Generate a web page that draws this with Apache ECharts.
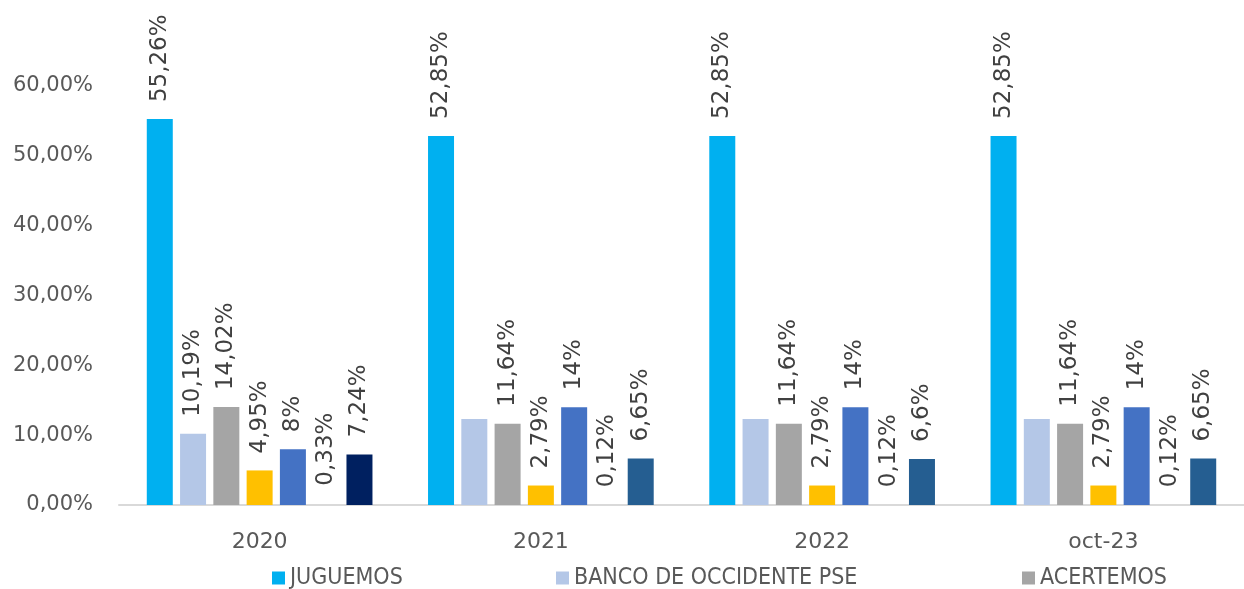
<!DOCTYPE html>
<html>
<head>
    <meta charset="utf-8">
    <title>Participación</title>
    <script src="https://cdn.jsdelivr.net/npm/echarts@6/dist/echarts.min.js"></script>
    <style>
        html, body{
            margin: 0;
            padding: 0;
            background: #fff;
        }
        #chart{
            width: 1244px;
            height: 589px;
        }
    </style>
</head>
<body>
<div id="chart"></div>
<script>
    // datos (en %)
    var categorias = ['2020', '2021', '2022', 'oct-23'];
    var juguemos   = [55.26, 52.85, 52.85, 52.85];
    var bancoOcc   = [10.19, 12.3, 12.3, 12.3];
    var bancoLabel = [true, false, false, false];   // solo 2020 lleva etiqueta
    var acertemos  = [14.02, 11.64, 11.64, 11.64];
    var serie4     = [4.95, 2.79, 2.79, 2.79];
    var serie5     = [8, 14, 14, 14];
    var serie6     = [0.33, 0.12, 0.12, 0.12];
    var serie7     = [7.24, 6.65, 6.6, 6.65];
    var yTicks     = [0, 10, 20, 30, 40, 50, 60];

    var fuente = 'DejaVu Sans';
    var fuenteCond = "'DejaVu Sans Condensed', 'DejaVu Sans'";

    function pct(v){
        return String(v).replace('.', ',') + '%';
    }

    var etiqueta = {
        show: true,
        position: 'top',
        rotate: 90,
        align: 'left',
        verticalAlign: 'middle',
        distance: 17,
        fontFamily: fuente,
        fontSize: 23,
        color: '#404040',
        formatter: function(p){ return pct(p.value); }
    };

    function serie(nombre, datos, color){
        return {
            name: nombre,
            type: 'bar',
            data: datos,
            barWidth: 26,
            barGap: '28%',
            itemStyle: { color: color },
            label: etiqueta
        };
    }

    var bancoData = bancoOcc.map(function(v, i){
        return bancoLabel[i] ? v : { value: v, label: { show: false } };
    });
    var serie7Data = serie7.map(function(v, i){
        return { value: v, itemStyle: { color: i == 0 ? '#002060' : '#255E91' } };
    });

    function leyenda(nombre, izq){
        return {
            data: [nombre],
            left: izq,
            top: 566,
            itemWidth: 13,
            itemHeight: 13,
            icon: 'rect',
            padding: 0,
            textStyle: { fontFamily: fuenteCond, fontSize: 23, lineHeight: 24, color: '#595959' }
        };
    }

    var myChart = echarts.init(document.getElementById('chart'));
    myChart.setOption({
        animation: false,
        grid: { left: 119, right: -19, top: 86, bottom: 84 },
        legend: [
            leyenda('JUGUEMOS', 272),
            leyenda('BANCO DE OCCIDENTE PSE', 556),
            leyenda('ACERTEMOS', 1022)
        ],
        xAxis: {
            type: 'category',
            data: categorias,
            axisTick: { show: false },
            axisLine: { lineStyle: { color: '#D9D9D9', width: 2 } },
            axisLabel: { fontFamily: fuente, fontSize: 22, color: '#595959', margin: 26 }
        },
        yAxis: {
            type: 'value',
            min: yTicks[0],
            max: yTicks[yTicks.length - 1],
            interval: 10,
            splitLine: { show: false },
            axisLine: { show: false },
            axisTick: { show: false },
            axisLabel: {
                fontFamily: fuente,
                fontSize: 21,
                color: '#595959',
                margin: 26,
                formatter: function(v){ return v.toFixed(2).replace('.', ',') + '%'; }
            }
        },
        series: [
            serie('JUGUEMOS', juguemos, '#00B0F0'),
            serie('BANCO DE OCCIDENTE PSE', bancoData, '#B4C7E7'),
            serie('ACERTEMOS', acertemos, '#A5A5A5'),
            serie('Serie 4', serie4, '#FFC000'),
            serie('Serie 5', serie5, '#4472C4'),
            serie('Serie 6', serie6, 'rgba(0,0,0,0)'),
            serie('Serie 7', serie7Data, '#255E91')
        ]
    });
</script>
</body>
</html>
